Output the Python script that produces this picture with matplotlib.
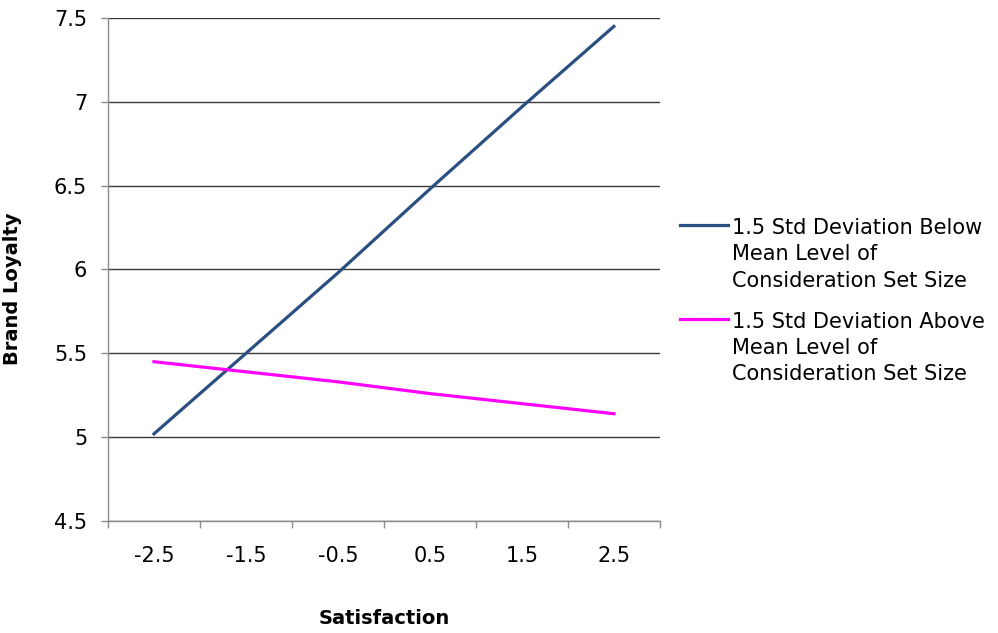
import numpy as np
import matplotlib
matplotlib.use('Agg')
import matplotlib.pyplot as plt
from matplotlib.legend_handler import HandlerLine2D

plt.rcParams['font.family'] = ['DejaVu Sans']

# Data
categories = ['-2.5', '-1.5', '-0.5', '0.5', '1.5', '2.5']
below_mean = [5.02, 5.50, 5.98, 6.48, 6.97, 7.45]
above_mean = [5.45, 5.39, 5.33, 5.26, 5.20, 5.14]
y_ticks = [4.5, 5, 5.5, 6, 6.5, 7, 7.5]
y_tick_labels = ['4.5', '5', '5.5', '6', '6.5', '7', '7.5']
label_below = '1.5 Std Deviation Below\nMean Level of\nConsideration Set Size'
label_above = '1.5 Std Deviation Above\nMean Level of\nConsideration Set Size'


class TopLineHandler(HandlerLine2D):
    # put the legend line next to the first text line, like Excel does
    def create_artists(self, legend, orig_handle, xdescent, ydescent,
                       width, height, fontsize, trans):
        artists = super().create_artists(legend, orig_handle, xdescent, ydescent,
                                         width, height, fontsize, trans)
        shift = 1.44 * fontsize
        for a in artists:
            a.set_ydata(np.asarray(a.get_ydata()) + shift)
        return artists


fig = plt.figure(figsize=(9.98, 6.33), dpi=100)
ax = fig.add_axes([0.1082, 0.1769, 0.553, 0.7947])

x = np.arange(len(categories))
l1, = ax.plot(x, below_mean, color='#2B4F81', linewidth=2.3, label=label_below)
l2, = ax.plot(x, above_mean, color='#FF00FF', linewidth=2.3, label=label_above)

ax.set_xlim(-0.5, len(categories) - 0.5)
ax.set_ylim(4.5, 7.5)
ax.set_yticks(y_ticks)
ax.set_yticklabels(y_tick_labels)
ax.set_xticks(x)
ax.set_xticklabels(categories)
ax.set_xticks(np.arange(len(categories) + 1) - 0.5, minor=True)

ax.tick_params(axis='x', which='major', length=0, pad=18, labelsize=15)
ax.tick_params(axis='x', which='minor', length=5, color='#8C8C8C', width=1)
ax.tick_params(axis='y', length=5, color='#8C8C8C', width=1, pad=10, labelsize=15)

ax.grid(axis='y', color='#3A3A3A', linewidth=1)
ax.set_axisbelow(True)
for s in ['top', 'right']:
    ax.spines[s].set_visible(False)
for s in ['left', 'bottom']:
    ax.spines[s].set_color('#8C8C8C')
    ax.spines[s].set_linewidth(1)
    ax.spines[s].set_zorder(3)

ax.set_ylabel('Brand Loyalty', fontsize=14, fontweight='bold')
ax.yaxis.set_label_coords(-0.156, 0.461)
ax.set_xlabel('Satisfaction', fontsize=14, fontweight='bold', va='top')
ax.xaxis.set_label_coords(0.5, -0.175)

leg = fig.legend(handles=[l1, l2], loc='upper left',
                 bbox_to_anchor=(680 / 998, 1 - 218 / 633),
                 frameon=False, fontsize=15, handlelength=2.3,
                 handletextpad=0.2, labelspacing=1.0, borderpad=0,
                 borderaxespad=0,
                 handler_map={matplotlib.lines.Line2D: TopLineHandler()})
for t in leg.get_texts():
    t.set_linespacing(1.4)

plt.savefig('out.png', dpi=100)
